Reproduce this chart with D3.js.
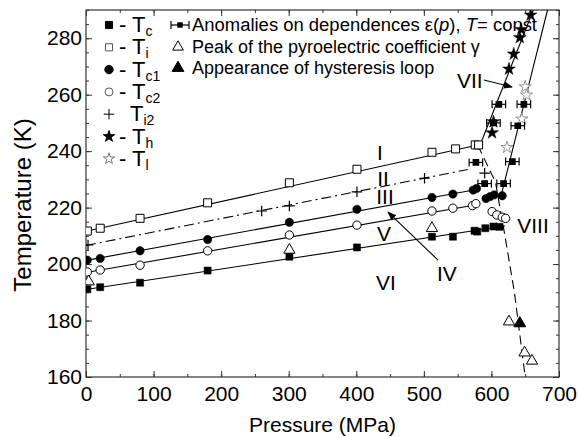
<html lang="en">
<head>
<script src="https://cdn.jsdelivr.net/npm/d3@7"></script>
</head>
<style>
body{margin:0;background:#fff;}
text{font-family:"Liberation Sans",Arial,Helvetica,sans-serif;fill:#000;}
</style>
<body>
<div id="drawarea"></div>
<script>
// ---- data (pressure MPa, temperature K) ----
const Tc=[[2,191.1],[21,191.8],[80,193.4],[180,197.7],[301,202.6],[401,205.9],[512,209.7],[543,209.7],[575,211.8],[579,211.5],[591,212.7],[603,213.3],[612,213.2]]
const Ti=[[2,211.7],[21,212.7],[80,216.2],[180,221.7],[301,228.8],[401,233.6],[512,239.6],[547,240.8],[576,242.2],[581,242.2]]
const Tc1=[[2,201.4],[21,202],[80,204.7],[180,208.7],[301,214.8],[401,219.4],[512,223.6],[543,224.8],[573,226.2],[578,226.8],[592,223.2],[598,223.9],[604,224.5],[616,224.2]]
const Tc2=[[2,197.2],[21,197.9],[80,199.6],[180,204.7],[301,210.3],[401,213.8],[512,218.8],[543,219.8],[572,220.7],[577,221.4],[601,218.6],[608,217.4],[616,216.6],[621,216.2]]
const Ti2=[[3,206.8],[260,218.8],[301,220.6],[401,225.6],[501,230.4],[590,232.2]]
const Th=[[601,246.5],[603,250.4],[626,269.1],[633,274.4],[642,280.2],[644,283.1],[658,288.2]]
const Tl=[[623,241.3],[645,251.4],[650,262.8],[652,259.9]]
const anomalies=[[577,236],[590,228.5],[603,250],[611,256.6],[618,228.5],[631,236.3],[639,249],[648,256.6]]
const pyroPeak=[[4,193.8],[301,205],[512,212.7],[626,179.6],[649,168.6],[660,165.7]]
const hysteresis=[[642,179]]
const errHalf=10

// phase boundary lines
const lineI=[[0,211.6],[580,242.2]]
const lineII=[[0,206.6],[565,233.5]]
const lineIII=[[0,201.3],[580,226.5]]
const lineV=[[0,197],[578,221]]
const lineVI=[[0,191],[620,213.5]]
const lineVIIh=[[583,242],[662,290]]
const lineVIIl=[[614,224],[683,290]]
const boundary=[[580,242],[606,229],[620,210],[634,190],[650,160]]

const xTicks=[0,100,200,300,400,500,600,700]
const yTicks=[160,180,200,220,240,260,280]

const W=578,H=437
const margin={top:10,right:19,bottom:60,left:86}
const x=d3.scaleLinear().domain([0,700]).range([margin.left,W-margin.right])
const y=d3.scaleLinear().domain([160,290]).range([H-margin.bottom,margin.top])

const svg=d3.select("#drawarea").append("svg").attr("width",W).attr("height",H)
svg.append("defs").append("clipPath").attr("id","clip").append("rect")
  .attr("x",margin.left).attr("y",margin.top).attr("width",x(700)-x(0)).attr("height",y(160)-y(290))
const arrowM=svg.select("defs").append("marker").attr("id","arr").attr("viewBox","0 0 10 10")
  .attr("refX",9).attr("refY",5).attr("markerWidth",9).attr("markerHeight",9).attr("orient","auto").attr("markerUnits","userSpaceOnUse")
arrowM.append("path").attr("d","M0,1 L10,5 L0,9 Z").attr("fill","#000")

// ---- axes ----
const axCol="#333"
function styleAx(g){g.select(".domain").remove();g.selectAll("line").attr("stroke",axCol);g.selectAll("text").style("font-size","21px").attr("fill","#000")}
const minorX=d3.range(0,701,50),minorY=d3.range(160,291,5)
svg.append("g").attr("transform",`translate(0,${y(160)})`).call(d3.axisBottom(x).tickValues(minorX).tickSize(-3).tickFormat("")).call(styleAx)
svg.append("g").attr("transform",`translate(0,${y(160)})`).call(d3.axisBottom(x).tickValues(xTicks).tickSize(-6).tickPadding(9).tickFormat(d3.format("d"))).call(styleAx)
svg.append("g").attr("transform",`translate(0,${y(290)})`).call(d3.axisTop(x).tickValues(minorX).tickSize(-3).tickFormat("")).call(styleAx)
svg.append("g").attr("transform",`translate(0,${y(290)})`).call(d3.axisTop(x).tickValues(xTicks).tickSize(-6).tickFormat("")).call(styleAx)
svg.append("g").attr("transform",`translate(${x(0)},0)`).call(d3.axisLeft(y).tickValues(minorY).tickSize(-3).tickFormat("")).call(styleAx)
svg.append("g").attr("transform",`translate(${x(0)},0)`).call(d3.axisLeft(y).tickValues(yTicks).tickSize(-6).tickPadding(4)).call(styleAx)
svg.append("g").attr("transform",`translate(${x(700)},0)`).call(d3.axisRight(y).tickValues(minorY).tickSize(-3).tickFormat("")).call(styleAx)
svg.append("g").attr("transform",`translate(${x(700)},0)`).call(d3.axisRight(y).tickValues(yTicks).tickSize(-6).tickFormat("")).call(styleAx)
svg.append("rect").attr("x",x(0)).attr("y",y(290)).attr("width",x(700)-x(0)).attr("height",y(160)-y(290))
  .attr("fill","none").attr("stroke",axCol).attr("stroke-width",1.2)

svg.append("text").attr("x",(x(0)+x(700))/2).attr("y",432).attr("text-anchor","middle").style("font-size","21px").text("Pressure (MPa)")
svg.append("text").attr("transform",`translate(31,205) rotate(-90)`).attr("text-anchor","middle").style("font-size","24px").text("Temperature (K)")

// ---- lines ----
const plot=svg.append("g").attr("clip-path","url(#clip)")
const ln=d3.line().x(d=>x(d[0])).y(d=>y(d[1]))
function drawLine(data,dash){plot.append("path").attr("d",ln(data)).attr("fill","none").attr("stroke","#000").attr("stroke-width",1.1).attr("stroke-dasharray",dash||null)}
drawLine(lineI);drawLine(lineII,"10,4,2,4");drawLine(lineIII);drawLine(lineV);drawLine(lineVI)
drawLine(lineVIIh);drawLine(lineVIIl);drawLine(boundary,"9,5")

// ---- markers ----
const plus={draw(c,s){const r=Math.sqrt(s)/2;c.moveTo(-r,0);c.lineTo(r,0);c.moveTo(0,-r);c.lineTo(0,r)}}
const sym=(t,s)=>d3.symbol().type(t).size(s)()
function pts(data,path,fill,stroke,sw){
  plot.append("g").selectAll("path").data(data).enter().append("path")
    .attr("transform",d=>`translate(${x(d[0])},${y(d[1])})`).attr("d",path)
    .attr("fill",fill).attr("stroke",stroke).attr("stroke-width",sw||1)
}
pts(Ti,sym(d3.symbolSquare,64),"#fff","#000",1)
pts(Tc,sym(d3.symbolSquare,50),"#000","#000",0.5)
pts(Tc1,sym(d3.symbolCircle,55),"#000","#000",0.5)
pts(Tc2,sym(d3.symbolCircle,55),"#fff","#000",1)
pts(Ti2,sym(plus,110),"none","#000",1.2)
pts(Th,sym(d3.symbolStar,50),"#000","#000",0.5)
pts(Tl,sym(d3.symbolStar,45),"#fff","#777",0.8)
pts(pyroPeak,sym(d3.symbolTriangle,55),"#fff","#000",1)
pts(hysteresis,sym(d3.symbolTriangle,60),"#000","#000",1)

const eb=plot.append("g")
anomalies.forEach(d=>{
  const g=eb.append("g").attr("stroke","#000").attr("stroke-width",1.2)
  g.append("line").attr("x1",x(d[0]-errHalf)).attr("x2",x(d[0]+errHalf)).attr("y1",y(d[1])).attr("y2",y(d[1]))
  g.append("line").attr("x1",x(d[0]-errHalf)).attr("x2",x(d[0]-errHalf)).attr("y1",y(d[1])-4).attr("y2",y(d[1])+4)
  g.append("line").attr("x1",x(d[0]+errHalf)).attr("x2",x(d[0]+errHalf)).attr("y1",y(d[1])-4).attr("y2",y(d[1])+4)
  g.append("path").attr("transform",`translate(${x(d[0])},${y(d[1])})`).attr("d",sym(d3.symbolSquare,30)).attr("fill","#000")
})

// ---- region labels and arrows ----
const regions=[["I",435,239.7],["II",439.5,230.5],["III",442.5,223.8],["V",441,211],["VI",444,193.6],["IV",534,196.8],["VII",568,265.2],["VIII",661.5,213.8]]
svg.append("g").selectAll("text").data(regions).enter().append("text")
  .attr("x",d=>x(d[1])).attr("y",d=>y(d[2])).attr("text-anchor","middle").attr("dy","0.36em")
  .style("font-size","21px").text(d=>d[0])
function arrow(a,b){svg.append("line").attr("x1",x(a[0])).attr("y1",y(a[1])).attr("x2",x(b[0])).attr("y2",y(b[1]))
  .attr("stroke","#000").attr("stroke-width",1.1).attr("marker-end","url(#arr)")}
arrow([521,201.4],[447,218.4])
arrow([589,265.2],[630.5,262.7])

// ---- legend ----
const legL=[["sq","c"],["osq","i"],["ci","c1"],["oci","c2"],["plus","i2"],["star","h"],["ostar","l"]]
const legSym={sq:[sym(d3.symbolSquare,50),"#000","#000"],osq:[sym(d3.symbolSquare,50),"#fff","#555"],ci:[sym(d3.symbolCircle,55),"#000","#000"],
  oci:[sym(d3.symbolCircle,50),"#fff","#555"],plus:[sym(plus,110),"none","#000"],star:[sym(d3.symbolStar,40),"#000","#000"],ostar:[sym(d3.symbolStar,40),"#fff","#777"]}
const lg=svg.append("g")
legL.forEach((d,i)=>{
  const yy=25+i*22.3
  const s=legSym[d[0]]
  lg.append("path").attr("transform",`translate(109,${yy})`).attr("d",s[0]).attr("fill",s[1]).attr("stroke",s[2]).attr("stroke-width",1)
  const t=lg.append("text").attr("x",d[0]=="plus"?130:119).attr("y",yy+7).style("font-size","22px")
  t.append("tspan").text(d[0]=="plus"?"T":"- T")
  t.append("tspan").attr("dy",4).style("font-size","14px").text(d[1])
})
const legR=svg.append("g").style("font-size","18px")
{
  const yy=25,xx=180
  legR.append("line").attr("x1",xx-9).attr("x2",xx+9).attr("y1",yy).attr("y2",yy).attr("stroke","#000").attr("stroke-width",1.2)
  legR.append("line").attr("x1",xx-9).attr("x2",xx-9).attr("y1",yy-4).attr("y2",yy+4).attr("stroke","#000").attr("stroke-width",1.2)
  legR.append("line").attr("x1",xx+9).attr("x2",xx+9).attr("y1",yy-4).attr("y2",yy+4).attr("stroke","#000").attr("stroke-width",1.2)
  legR.append("path").attr("transform",`translate(${xx},${yy})`).attr("d",sym(d3.symbolSquare,30)).attr("fill","#000")
  const t=legR.append("text").attr("x",192).attr("y",yy+6).attr("textLength",345).attr("lengthAdjust","spacingAndGlyphs")
  t.append("tspan").text("Anomalies on dependences ε(")
  t.append("tspan").style("font-style","italic").text("p")
  t.append("tspan").text("), ")
  t.append("tspan").style("font-style","italic").text("T")
  t.append("tspan").text("= const")
  legR.append("path").attr("transform",`translate(178,47)`).attr("d",sym(d3.symbolTriangle,50)).attr("fill","#fff").attr("stroke","#000")
  legR.append("text").attr("x",192).attr("y",53).text("Peak of the pyroelectric coefficient γ")
  legR.append("path").attr("transform",`translate(178,68)`).attr("d",sym(d3.symbolTriangle,60)).attr("fill","#000").attr("stroke","#000")
  legR.append("text").attr("x",192).attr("y",74).text("Appearance of hysteresis loop")
}
</script>
</body>
</html>
